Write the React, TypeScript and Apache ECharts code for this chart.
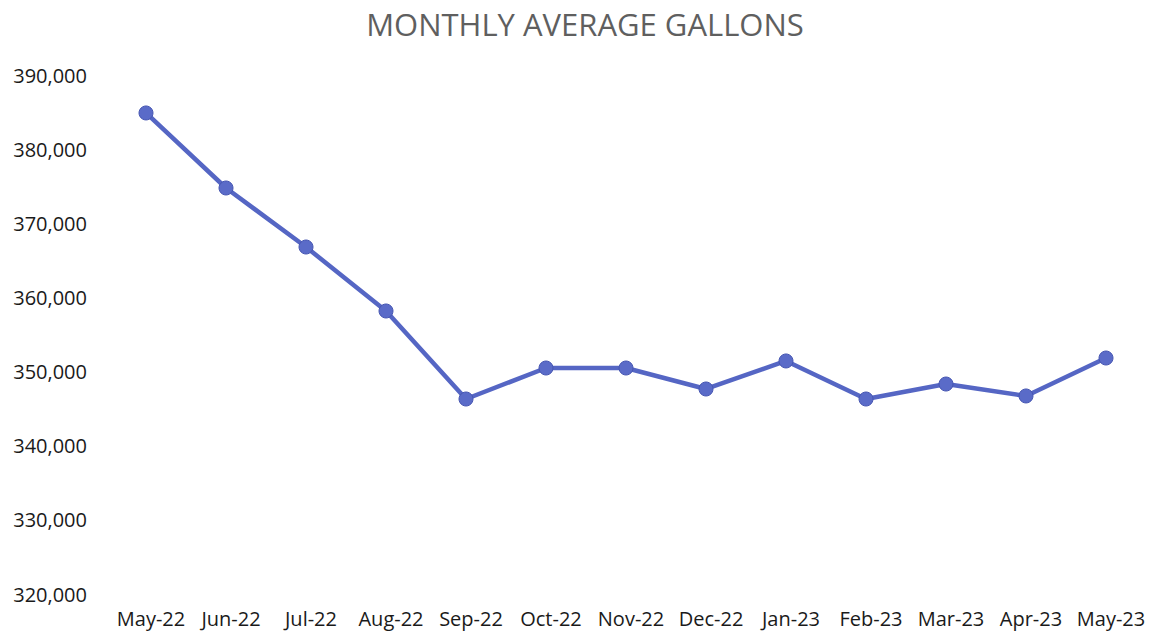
import React, { useEffect, useRef } from "react";
import * as echarts from "echarts";

const months = ["May-22", "Jun-22", "Jul-22", "Aug-22", "Sep-22", "Oct-22", "Nov-22", "Dec-22", "Jan-23", "Feb-23", "Mar-23", "Apr-23", "May-23"];
const gallons = [384880, 374760, 366800, 358170, 346300, 350480, 350480, 347650, 351430, 346300, 348320, 346710, 351830];
const yMin = 320000;
const yMax = 390000;
const yStep = 10000;

export default function App() {
  const ref = useRef<HTMLDivElement>(null);
  useEffect(() => {
    if (!ref.current) return;
    const chart = echarts.init(ref.current, undefined, { renderer: "svg" });
    chart.setOption({
      animation: false,
      backgroundColor: "#ffffff",
      title: {
        text: "MONTHLY AVERAGE GALLONS",
        left: 580,
        top: 3,
        textAlign: "center",
        textStyle: {
          fontFamily: "Open Sans",
          fontSize: 31,
          fontWeight: "normal",
          color: "#5f5f5f",
        },
      },
      grid: { left: 106, right: 3, top: 75, bottom: 41, containLabel: false },
      xAxis: {
        type: "category",
        data: months,
        boundaryGap: true,
        axisLine: { show: false },
        axisTick: { show: false },
        axisLabel: {
          fontFamily: "Open Sans",
          fontSize: 20,
          color: "#1a1a1a",
          margin: 14,
          interval: 0,
          padding: [0, 0, 0, 10],
        },
      },
      yAxis: {
        type: "value",
        min: yMin,
        max: yMax,
        interval: yStep,
        axisLine: { show: false },
        axisTick: { show: false },
        splitLine: { show: false },
        axisLabel: {
          fontFamily: "Open Sans",
          fontSize: 20,
          color: "#1a1a1a",
          margin: 19,
          formatter: (v: number) => v.toLocaleString("en-US"),
        },
      },
      series: [
        {
          type: "line",
          data: gallons,
          symbol: "circle",
          symbolSize: 14,
          lineStyle: { color: "#5566c4", width: 4.5 },
          itemStyle: { color: "#5a6bc8", borderColor: "#4656b2", borderWidth: 1 },
        },
      ],
    });
    return () => chart.dispose();
  }, []);
  return <div ref={ref} style={{ position: "fixed", left: 0, top: 0, width: 1149, height: 635 }} />;
}
